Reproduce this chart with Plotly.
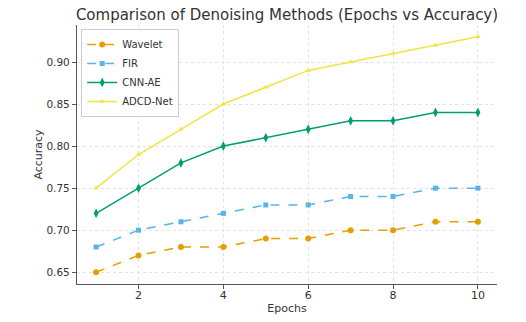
import plotly.graph_objects as go

epochs = [1, 2, 3, 4, 5, 6, 7, 8, 9, 10]
wavelet = [0.65, 0.67, 0.68, 0.68, 0.69, 0.69, 0.70, 0.70, 0.71, 0.71]
fir = [0.68, 0.70, 0.71, 0.72, 0.73, 0.73, 0.74, 0.74, 0.75, 0.75]
cnn_ae = [0.72, 0.75, 0.78, 0.80, 0.81, 0.82, 0.83, 0.83, 0.84, 0.84]
adcd_net = [0.75, 0.79, 0.82, 0.85, 0.87, 0.89, 0.90, 0.91, 0.92, 0.93]

x_ticks = [2, 4, 6, 8, 10]
y_ticks = [0.65, 0.70, 0.75, 0.80, 0.85, 0.90]

series = [
    ("Wavelet", wavelet, "#E69F00", "circle", "dash", 6),
    ("FIR", fir, "#56B4E9", "square", "dash", 5),
    ("CNN-AE", cnn_ae, "#009E73", "diamond-tall", "solid", 7),
    ("ADCD-Net", adcd_net, "#F0E442", "triangle-up", "solid", 5),
]

fig = go.Figure()
for name, vals, color, sym, dash, ms in series:
    fig.add_trace(go.Scatter(
        x=epochs, y=vals, name=name, mode="lines+markers",
        line=dict(color=color, width=1.5, dash=dash),
        marker=dict(symbol=sym, size=ms, color=color),
    ))

font = "DejaVu Sans"
fig.update_layout(
    width=526, height=322,
    margin=dict(l=77, r=29, t=25, b=38),
    paper_bgcolor="white", plot_bgcolor="white",
    font=dict(family=font, size=10, color="#333333"),
    title=dict(text="Comparison of Denoising Methods (Epochs vs Accuracy)",
               x=0.5, xref="paper", xanchor="center", y=0.955, yanchor="middle",
               font=dict(size=15, color="#333333")),
    legend=dict(x=0.01, y=0.985, xanchor="left", yanchor="top",
                bgcolor="rgba(255,255,255,0.9)", bordercolor="#cccccc", borderwidth=1,
                font=dict(size=10), tracegroupgap=0, itemwidth=30),
    showlegend=True,
)
fig.update_xaxes(
    range=[0.55, 10.45], tickvals=x_ticks, ticktext=[str(t) for t in x_ticks],
    showgrid=True, gridcolor="#e2e2e2", griddash="dot", gridwidth=1,
    showline=True, linecolor="#555555", linewidth=1.2, mirror=False,
    ticks="outside", ticklen=4, tickcolor="#555555", zeroline=False,
    ticklabelstandoff=-3, tickfont=dict(size=11),
    automargin=False,
    title=dict(text="Epochs", standoff=2, font=dict(size=11)),
)
fig.update_yaxes(
    range=[0.636, 0.944], tickvals=y_ticks, ticktext=[f"{t:.2f}" for t in y_ticks],
    showgrid=True, gridcolor="#e2e2e2", griddash="dot", gridwidth=1,
    showline=True, linecolor="#555555", linewidth=1.2, mirror=False,
    ticks="outside", ticklen=4, tickcolor="#555555", zeroline=False,
    tickfont=dict(size=10.5),
    automargin=False,
    title=dict(text="Accuracy", standoff=1, font=dict(size=11)),
)

fig.write_html("out.html")
